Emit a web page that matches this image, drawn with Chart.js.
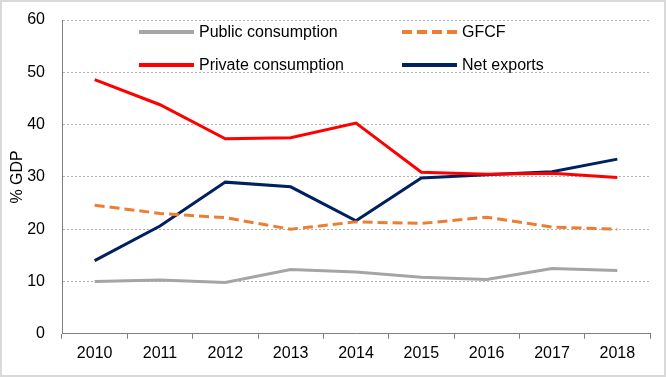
<!DOCTYPE html>
<html>
<head>
<meta charset="utf-8">
<script src="https://cdn.jsdelivr.net/npm/chart.js@4/dist/chart.umd.min.js"></script>
<style>
  html, body { margin: 0; padding: 0; background: #fff; }
  #wrap { width: 666px; height: 377px; box-sizing: border-box; border: 2px solid #d9d9d9; }
</style>
</head>
<body>
<div id="wrap"><canvas id="gdpChart" width="662" height="373"></canvas></div>
<script>
const years = ["2010", "2011", "2012", "2013", "2014", "2015", "2016", "2017", "2018"];
const publicCons = [10.0, 10.3, 9.8, 12.3, 11.8, 10.8, 10.4, 12.5, 12.1];
const gfcf = [24.6, 23.0, 22.2, 20.0, 21.4, 21.1, 22.3, 20.4, 20.0];
const privateCons = [48.6, 43.8, 37.3, 37.5, 40.3, 30.9, 30.5, 30.7, 29.9];
const netExports = [14.0, 20.6, 29.0, 28.1, 21.6, 29.8, 30.4, 31.0, 33.4];
const yTicks = [0, 10, 20, 30, 40, 50, 60];

const font = { family: "Liberation Sans, Arial, sans-serif", size: 16 };

// legend drawn inside the plot, two columns like the original
const insideLegend = {
  id: "insideLegend",
  afterDraw(chart) {
    const ctx = chart.ctx;
    const area = chart.chartArea;
    const cols = [area.left + 77, area.left + 340];
    const rows = [area.top + 12, area.top + 45];
    ctx.save();
    ctx.font = "16px " + font.family;
    ctx.textBaseline = "middle";
    chart.data.datasets.forEach((ds, i) => {
      const x = cols[i % 2];
      const y = rows[Math.floor(i / 2)];
      ctx.strokeStyle = ds.borderColor;
      ctx.lineWidth = 4;
      ctx.setLineDash(ds.borderDash || []);
      ctx.beginPath();
      ctx.moveTo(x, y);
      ctx.lineTo(x + 55, y);
      ctx.stroke();
      ctx.setLineDash([]);
      ctx.fillStyle = "#000";
      ctx.fillText(ds.label, x + 60, y + 1);
    });
    ctx.restore();
  },
};

new Chart(document.getElementById("gdpChart"), {
  type: "line",
  data: {
    labels: years,
    datasets: [
      { label: "Public consumption", data: publicCons, borderColor: "#a5a5a5" },
      { label: "GFCF", data: gfcf, borderColor: "#ed7d31", borderDash: [10, 5] },
      { label: "Private consumption", data: privateCons, borderColor: "#ff0000" },
      { label: "Net exports", data: netExports, borderColor: "#002060" },
    ],
  },
  options: {
    responsive: false,
    animation: false,
    layout: { padding: { top: 18, right: 14, bottom: 7, left: 6 } },
    elements: {
      line: { borderWidth: 3, tension: 0, fill: false },
      point: { radius: 0 },
    },
    plugins: { legend: { display: false }, tooltip: { enabled: false } },
    scales: {
      x: {
        offset: true,
        grid: { offset: true, drawOnChartArea: false, drawTicks: true, tickLength: 5, color: "#808080" },
        border: { color: "#808080" },
        ticks: { color: "#000", font: font, padding: 5 },
      },
      y: {
        min: 0,
        max: 60,
        afterBuildTicks(axis) {
          axis.ticks = yTicks.map((v) => ({ value: v }));
        },
        afterFit(axis) {
          axis.width = 54;
          axis.paddingTop = 0;
          axis.paddingBottom = 0;
        },
        grid: {
          drawTicks: false,
          color: (c) => (c.tick.value === 0 ? "rgba(0,0,0,0)" : "#b0b0b0"),
          lineWidth: 1,
        },
        border: { color: "#808080", dash: [2, 2] },
        ticks: { color: "#000", font: font, padding: 17 },
        title: { display: true, text: "% GDP", color: "#000", font: font, padding: 0 },
      },
    },
  },
  plugins: [insideLegend],
});
</script>
</body>
</html>
